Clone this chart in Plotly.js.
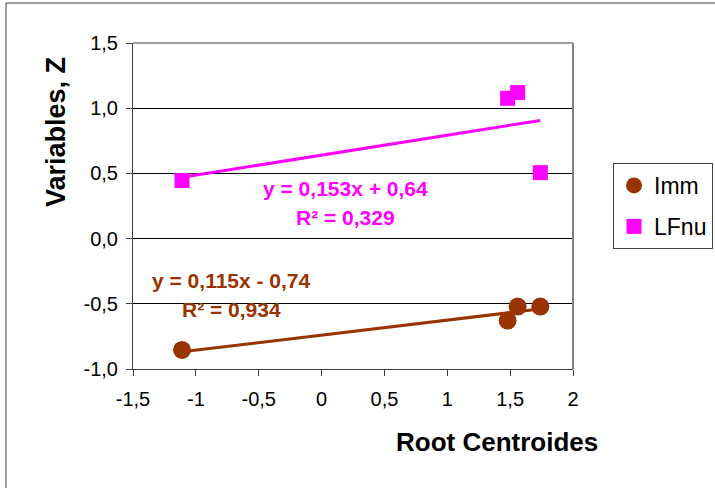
<!DOCTYPE html>
<html>
<head>
<meta charset="utf-8">
<script src="https://cdn.plot.ly/plotly-3.0.1.min.js"></script>
<style>html,body{margin:0;padding:0;background:#fff;}#chart{width:715px;height:488px;}</style>
</head>
<body>
<div id="chart"></div>
<script>
// Data
const rootCentroids = [-1.11, 1.48, 1.56, 1.74];
const immValues = [-0.854, -0.629, -0.521, -0.521];
const lfnuValues = [0.445, 1.076, 1.12, 0.506];
const seriesNames = ["Imm", "LFnu"];
// Trend-line coefficients as printed on the chart
const immFit = {slope: 0.115, intercept: -0.74, eq: "y = 0,115x - 0,74", r2: "R² = 0,934"};
const lfnuFit = {slope: 0.153, intercept: 0.64, eq: "y = 0,153x + 0,64", r2: "R² = 0,329"};
// Tick labels
const xTickVals = [-1.5, -1, -0.5, 0, 0.5, 1, 1.5, 2];
const xTickText = ["-1,5", "-1", "-0,5", "0", "0,5", "1", "1,5", "2"];
const yTickVals = [-1, -0.5, 0, 0.5, 1, 1.5];
const yTickText = ["-1,0", "-0,5", "0,0", "0,5", "1,0", "1,5"];

const brown = "#993300";
const magenta = "#FF00FF";
const FONT = "Liberation Sans, Arial, sans-serif";

const xMin = Math.min(...rootCentroids), xMax = Math.max(...rootCentroids);
function fitLine(f) { return [f.slope * xMin + f.intercept, f.slope * xMax + f.intercept]; }

const traces = [
  {x: [xMin, xMax], y: fitLine(immFit), mode: "lines", line: {color: brown, width: 3}, showlegend: false, hoverinfo: "skip"},
  {x: [xMin, xMax], y: fitLine(lfnuFit), mode: "lines", line: {color: magenta, width: 3}, showlegend: false, hoverinfo: "skip"},
  {x: rootCentroids, y: immValues, name: seriesNames[0], mode: "markers", legendgroup: "a",
   marker: {symbol: "circle", size: 18, color: brown}},
  {x: rootCentroids, y: lfnuValues, name: seriesNames[1], mode: "markers", legendgroup: "b",
   marker: {symbol: "square", size: 15, color: magenta}}
];

const L = 133, R = 573, T = 43, B = 369;
const W = 715, H = 488;
const px2paperX = p => (p - L) / (R - L);
const px2paperY = p => (B - p) / (B - T);

const layout = {
  width: W, height: H,
  margin: {l: L, r: W - R, t: T, b: H - B, pad: 0, autoexpand: false},
  paper_bgcolor: "#fff", plot_bgcolor: "#fff",
  font: {family: FONT, color: "#000", size: 20},
  showlegend: true,
  legend: {x: px2paperX(613), y: px2paperY(163), xanchor: "left", yanchor: "top",
    bordercolor: "#404040", borderwidth: 1, font: {size: 23, family: FONT},
    tracegroupgap: 8, itemsizing: "trace"},
  xaxis: {range: [-1.5, 2], tickvals: xTickVals, ticktext: xTickText, showgrid: false,
    zeroline: false, showline: true, linecolor: "#404040", linewidth: 1,
    ticks: "outside", ticklen: 6, tickcolor: "#404040", tickfont: {size: 20},
    ticklabelstandoff: 6, fixedrange: true},
  yaxis: {range: [-1, 1.5], tickvals: yTickVals, ticktext: yTickText, showgrid: true,
    gridcolor: "#000", gridwidth: 1, zeroline: false, showline: true, linecolor: "#404040",
    linewidth: 1, ticks: "outside", ticklen: 6, tickcolor: "#404040", tickfont: {size: 20},
    ticklabelstandoff: 4, fixedrange: true},
  shapes: [
    // plot-area border (top and right, grey)
    {type: "line", xref: "paper", yref: "paper", x0: 0, x1: 1, y0: 1, y1: 1, line: {color: "#808080", width: 1.5}},
    {type: "line", xref: "paper", yref: "paper", x0: 1, x1: 1, y0: 0, y1: 1, line: {color: "#808080", width: 2}},
    // outer chart frame
    {type: "rect", xref: "paper", yref: "paper", x0: px2paperX(6), x1: px2paperX(740),
     y0: px2paperY(520), y1: px2paperY(3), line: {color: "#404040", width: 1}}
  ],
  annotations: [
    {text: "<b>Root Centroides</b>", xref: "paper", yref: "paper", x: px2paperX(497), y: px2paperY(442),
     xanchor: "center", yanchor: "middle", showarrow: false, font: {size: 26, color: "#000"}},
    {text: "<b>Variables, Z</b>", xref: "paper", yref: "paper", x: px2paperX(56), y: px2paperY(132),
     xanchor: "center", yanchor: "middle", showarrow: false, textangle: -90, font: {size: 27, color: "#000"}},
    {text: "<b>" + lfnuFit.eq + "</b>", x: (346 - 322) / 125.7, y: (238 - 188) / 130.4, showarrow: false,
     xanchor: "center", yanchor: "middle", font: {size: 21, color: magenta}},
    {text: "<b>" + lfnuFit.r2 + "</b>", x: (346 - 322) / 125.7, y: (238 - 217) / 130.4, showarrow: false,
     xanchor: "center", yanchor: "middle", font: {size: 21, color: magenta}},
    {text: "<b>" + immFit.eq + "</b>", x: (232 - 322) / 125.7, y: (238 - 280) / 130.4, showarrow: false,
     xanchor: "center", yanchor: "middle", font: {size: 21, color: brown}},
    {text: "<b>" + immFit.r2 + "</b>", x: (232 - 322) / 125.7, y: (238 - 309) / 130.4, showarrow: false,
     xanchor: "center", yanchor: "middle", font: {size: 21, color: brown}}
  ]
};

Plotly.newPlot("chart", traces, layout, {displayModeBar: false, staticPlot: true});
</script>
</body>
</html>
